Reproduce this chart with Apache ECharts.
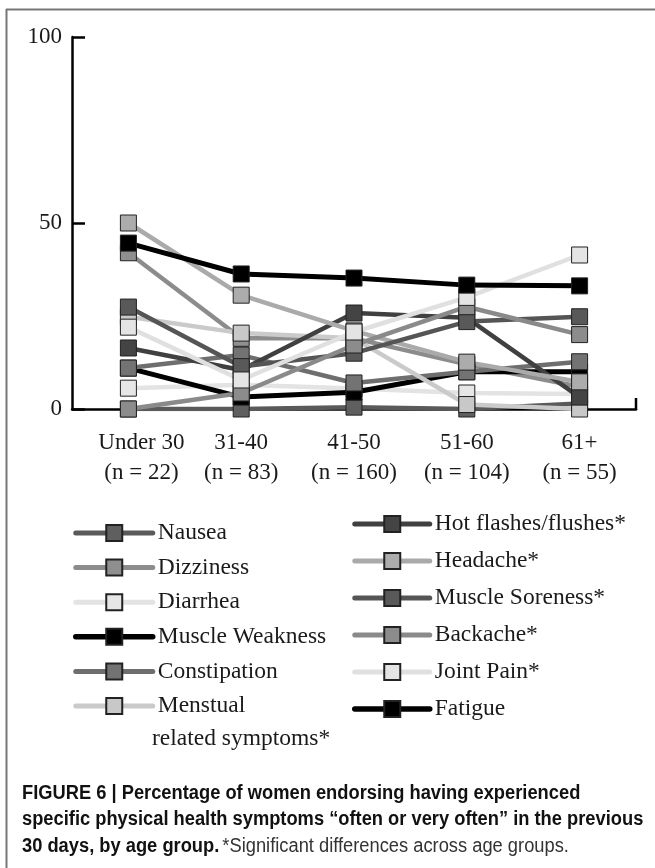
<!DOCTYPE html>
<html>
<head>
<meta charset="utf-8">
<script src="https://cdn.jsdelivr.net/npm/echarts@6/dist/echarts.min.js"></script>
<style>
  html, body { margin: 0; padding: 0; background: #fff; }
  #chart { width: 655px; height: 868px; }
</style>
</head>
<body>
<div id="chart"></div>
<script>
// Age groups (x axis) and percentage of women per symptom
const ageGroups = ['Under 30\n(n = 22)', '31-40\n(n = 83)', '41-50\n(n = 160)', '51-60\n(n = 104)', '61+\n(n = 55)'];
const yTicks = [0, 50, 100];

const nausea         = [0, 0, 0.5, 0, 1.5];
const dizziness      = [42, 19, 19, 12, 6];
const diarrhea       = [5.6, 6.5, 5.5, 4.3, 4];
const muscleWeakness = [11, 3.2, 4.5, 10, 10];
const constipation   = [11, 14.5, 7, 10, 12.7];
const menstrual      = [24.8, 20.4, 19, 1.2, 0];
const hotFlashes     = [16.4, 10.5, 25.8, 24.5, 3.2];
const headache       = [50, 30.6, 21, 12.6, 7.3];
const muscleSoreness = [27.4, 11.4, 15, 23.5, 24.8];
const backache       = [0, 4.3, 17.2, 27.5, 20];
const jointPain      = [22, 7.8, 20.7, 30, 41.4];
const fatigue        = [44.6, 36.3, 35.2, 33.3, 33.1];

const serif = '"Liberation Serif", "Times New Roman", serif';
const sans = '"Liberation Sans", Arial, sans-serif';

const seriesDefs = [
  { name: 'Nausea',                     data: nausea,         line: '#5a5a5a', fill: '#5f5f5f', w: 4.5 },
  { name: 'Dizziness',                  data: dizziness,      line: '#8c8c8c', fill: '#8f8f8f', w: 4.5 },
  { name: 'Diarrhea',                   data: diarrhea,       line: '#e3e3e3', fill: '#e6e6e6', w: 4.5 },
  { name: 'Muscle Weakness',            data: muscleWeakness, line: '#000000', fill: '#000000', w: 5 },
  { name: 'Constipation',               data: constipation,   line: '#6e6e6e', fill: '#737373', w: 4.5 },
  { name: 'Menstual related symptoms*', data: menstrual,      line: '#cacaca', fill: '#c8c8c8', w: 4.5 },
  { name: 'Hot flashes/flushes*',       data: hotFlashes,     line: '#404040', fill: '#444444', w: 4.5 },
  { name: 'Headache*',                  data: headache,       line: '#aaaaaa', fill: '#acacac', w: 4.5 },
  { name: 'Muscle Soreness*',           data: muscleSoreness, line: '#555555', fill: '#595959', w: 4.5 },
  { name: 'Backache*',                  data: backache,       line: '#8a8a8a', fill: '#8c8c8c', w: 4.5 },
  { name: 'Joint Pain*',                data: jointPain,      line: '#e0e0e0', fill: '#e4e4e4', w: 4.5 },
  { name: 'Fatigue',                    data: fatigue,        line: '#000000', fill: '#000000', w: 5 }
];

const series = seriesDefs.map(d => ({
  name: d.name,
  type: 'line',
  data: d.data,
  symbol: 'rect',
  symbolSize: 16,
  lineStyle: { color: d.line, width: d.w },
  itemStyle: { color: d.fill, borderColor: '#222', borderWidth: 1 },
  emphasis: { disabled: true },
  animation: false
}));

const legendText = { fontFamily: serif, fontSize: 23.5, color: '#1a1a1a', lineHeight: 20 };
const legendItems = defs => defs.map(d => ({
  name: d.name,
  lineStyle: { color: d.line, width: d.w + 0.5, cap: 'round' }
}));

const chart = echarts.init(document.getElementById('chart'), null, { renderer: 'canvas' });

chart.setOption({
  backgroundColor: '#ffffff',
  animation: false,
  grid: { left: 72, right: 19, top: 37, bottom: 459, containLabel: false },
  xAxis: {
    type: 'category',
    data: ageGroups,
    boundaryGap: true,
    axisLine: { lineStyle: { color: '#000', width: 2.5 } },
    axisTick: { inside: true, length: 5, lineStyle: { color: '#000', width: 2 } },
    axisLabel: {
      fontFamily: serif, fontSize: 23, color: '#1a1a1a', lineHeight: 30, margin: 19, interval: 0,
      // the first group label sits slightly right, clear of the vertical axis
      formatter: (v, i) => i === 0 ? v.split('\n').map(s => '{s|' + s + '}').join('\n') : v,
      rich: { s: { fontFamily: serif, fontSize: 23, color: '#1a1a1a', lineHeight: 30, padding: [0, 0, 0, 26] } }
    }
  },
  yAxis: {
    type: 'value',
    min: yTicks[0],
    max: yTicks[yTicks.length - 1],
    interval: 50,
    splitLine: { show: false },
    axisLine: { show: true, lineStyle: { color: '#000', width: 2.5 } },
    axisTick: { show: true, inside: true, length: 13, lineStyle: { color: '#000', width: 2.5 } },
    axisLabel: { fontFamily: serif, fontSize: 23, color: '#1a1a1a', margin: 10 }
  },
  legend: [
    {
      data: legendItems(seriesDefs.slice(0, 6)),
      orient: 'vertical',
      left: 68, top: 516,
      itemWidth: 77, itemHeight: 20, itemGap: 10.6,
      selectedMode: false,
      textStyle: legendText,
      formatter: n => n === 'Menstual related symptoms*' ? 'Menstual' : n
    },
    {
      data: legendItems(seriesDefs.slice(6)),
      orient: 'vertical',
      left: 347, top: 507,
      itemWidth: 75, itemHeight: 20, itemGap: 13,
      selectedMode: false,
      textStyle: legendText
    }
  ],
  series: series
});

// Axis end cap, frame and caption
const endX = chart.getWidth() - 19;
const zeroY = chart.convertToPixel({ yAxisIndex: 0 }, 0);

chart.setOption({
  graphic: [
    { type: 'line', shape: { x1: endX, y1: zeroY + 1, x2: endX, y2: zeroY - 11 }, style: { stroke: '#000', lineWidth: 2.5 }, silent: true },
    { type: 'line', shape: { x1: 6, y1: 9.5, x2: 655, y2: 9.5 }, style: { stroke: '#777', lineWidth: 2 }, silent: true },
    { type: 'line', shape: { x1: 6.5, y1: 9, x2: 6.5, y2: 868 }, style: { stroke: '#777', lineWidth: 2 }, silent: true },
    { type: 'text', left: 152, top: 727, silent: true,
      style: { text: 'related symptoms*', font: '23.5px ' + serif, fill: '#1a1a1a' } },
    { type: 'text', x: 22, y: 780, scaleX: 0.915, silent: true,
      style: {
        text: '{b|FIGURE 6 | Percentage of women endorsing having experienced}\n' +
              '{b|specific physical health symptoms \u201coften or very often\u201d in the previous}\n' +
              '{b|30 days, by age group.} {n|*Significant differences across age groups.}',
        rich: {
          b: { fontFamily: sans, fontWeight: 'bold', fontSize: 20, lineHeight: 26.5, fill: '#111' },
          n: { fontFamily: sans, fontWeight: 'normal', fontSize: 20, lineHeight: 26.5, fill: '#333' }
        }
      }
    }
  ]
});
</script>
</body>
</html>
